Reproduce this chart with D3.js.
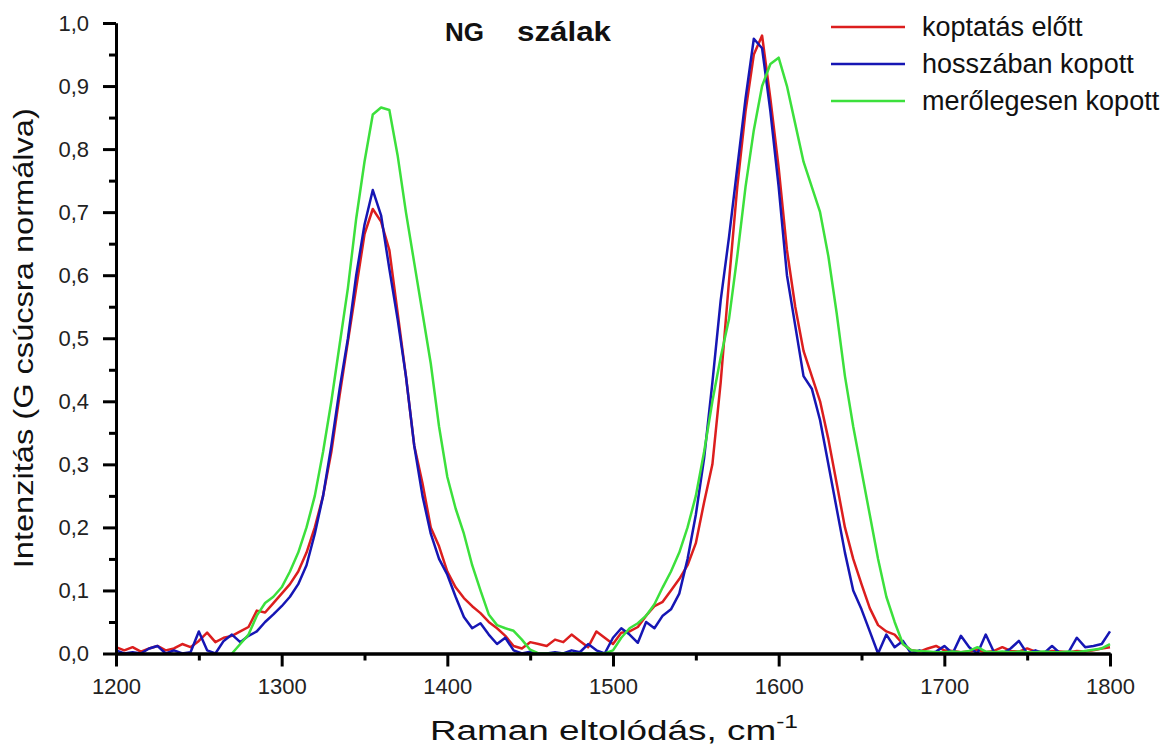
<!DOCTYPE html>
<html>
<head>
<meta charset="utf-8">
<script src="https://cdn.jsdelivr.net/npm/d3@7/dist/d3.min.js"></script>
<style>
  body { margin: 0; background: #fff; }
  svg { display: block; }
  text { font-family: "Liberation Sans", Arial, sans-serif; }
</style>
</head>
<body>
<svg id="chart" width="1167" height="747"></svg>
<script>
// Raman shift grid (cm-1), one point every 5 cm-1
const wavenumbers = [
  1200,1205,1210,1215,1220,1225,1230,1235,1240,1245,1250,1255,1260,1265,1270,1275,1280,1285,1290,1295,
  1300,1305,1310,1315,1320,1325,1330,1335,1340,1345,1350,1355,1360,1365,1370,1375,1380,1385,1390,1395,
  1400,1405,1410,1415,1420,1425,1430,1435,1440,1445,1450,1455,1460,1465,1470,1475,1480,1485,1490,1495,
  1500,1505,1510,1515,1520,1525,1530,1535,1540,1545,1550,1555,1560,1565,1570,1575,1580,1585,1590,1595,
  1600,1605,1610,1615,1620,1625,1630,1635,1640,1645,1650,1655,1660,1665,1670,1675,1680,1685,1690,1695,
  1700,1705,1710,1715,1720,1725,1730,1735,1740,1745,1750,1755,1760,1765,1770,1775,1780,1785,1790,1795,
  1800
];

// koptatás előtt
const beforeWear = [
  0.010,0.005,0.010,0.003,0.008,0.012,0.005,0.008,0.015,0.010,0.020,0.033,0.018,0.025,0.028,0.035,0.042,0.068,0.065,0.080,
  0.095,0.110,0.130,0.160,0.200,0.250,0.320,0.410,0.495,0.580,0.665,0.705,0.685,0.640,0.540,0.440,0.330,0.270,0.200,0.170,
  0.130,0.105,0.088,0.075,0.064,0.050,0.040,0.028,0.012,0.008,0.018,0.015,0.012,0.022,0.018,0.030,0.020,0.010,0.035,0.025,
  0.015,0.033,0.035,0.042,0.060,0.075,0.082,0.100,0.118,0.140,0.175,0.240,0.300,0.430,0.590,0.740,0.860,0.950,0.980,0.880,
  0.770,0.640,0.550,0.480,0.440,0.400,0.340,0.270,0.200,0.150,0.110,0.072,0.045,0.035,0.030,0.015,0.005,0.003,0.008,0.012,
  0.005,0.004,0.002,0.003,0.006,0.002,0.004,0.010,0.004,0.003,0.008,0.003,0.002,0.004,0.003,0.002,0.004,0.003,0.005,0.008,
  0.010
];

// hosszában kopott
const alongWear = [
  0.005,0.000,0.002,0.000,0.008,0.012,0.000,0.005,0.000,0.002,0.035,0.005,0.000,0.020,0.030,0.018,0.028,0.035,0.050,0.062,
  0.075,0.090,0.110,0.140,0.190,0.250,0.330,0.420,0.500,0.600,0.680,0.735,0.695,0.610,0.530,0.440,0.330,0.250,0.190,0.150,
  0.125,0.090,0.058,0.040,0.048,0.030,0.015,0.025,0.005,0.000,0.003,0.000,0.000,0.002,0.000,0.005,0.002,0.015,0.005,0.000,
  0.025,0.040,0.030,0.017,0.050,0.040,0.060,0.070,0.095,0.150,0.220,0.310,0.430,0.560,0.660,0.770,0.880,0.975,0.960,0.860,
  0.740,0.600,0.520,0.440,0.420,0.370,0.300,0.230,0.160,0.100,0.070,0.035,0.000,0.030,0.010,0.020,0.000,0.005,0.000,0.003,
  0.012,0.000,0.028,0.010,0.000,0.030,0.002,0.000,0.008,0.020,0.000,0.005,0.000,0.012,0.000,0.002,0.025,0.010,0.012,0.015,
  0.035
];

// merőlegesen kopott (the trace starts at about 1270 cm-1)
const acrossWear = [
  null,null,null,null,null,null,null,null,null,null,null,null,null,null,0.000,0.015,0.030,0.060,0.080,0.090,
  0.105,0.130,0.160,0.200,0.250,0.320,0.400,0.490,0.580,0.690,0.780,0.855,0.866,0.862,0.790,0.700,0.620,0.540,0.460,0.360,
  0.280,0.230,0.190,0.140,0.100,0.062,0.045,0.040,0.036,0.022,0.006,0.000,0.000,0.000,0.000,0.000,0.000,0.000,0.000,0.000,
  0.005,0.025,0.040,0.048,0.060,0.078,0.105,0.130,0.160,0.200,0.250,0.320,0.400,0.470,0.530,0.630,0.740,0.830,0.900,0.935,
  0.945,0.900,0.840,0.780,0.740,0.700,0.630,0.540,0.440,0.360,0.290,0.220,0.150,0.090,0.050,0.015,0.005,0.004,0.003,0.002,
  0.002,0.003,0.002,0.004,0.010,0.003,0.002,0.003,0.002,0.003,0.002,0.002,0.003,0.002,0.002,0.003,0.002,0.004,0.006,0.008,
  0.015
];

const seriesNames = ["koptatás előtt", "hosszában kopott", "merőlegesen kopott"];
const seriesColors = ["#dc1e1e", "#1616b4", "#3ce03c"];
const seriesValues = [beforeWear, alongWear, acrossWear];

const xTicks = [1200, 1300, 1400, 1500, 1600, 1700, 1800];
const xMinorTicks = [1250, 1350, 1450, 1550, 1650, 1750];
const yTicks = [0, 0.1, 0.2, 0.3, 0.4, 0.5, 0.6, 0.7, 0.8, 0.9, 1.0];
const yMinorTicks = [0.05, 0.15, 0.25, 0.35, 0.45, 0.55, 0.65, 0.75, 0.85, 0.95];

const margins = { top: 23, bottom: 93.5, left: 116, right: 57 };
const width = 1167;
const height = 747;
const graphWidth = width - margins.left - margins.right;
const graphHeight = height - margins.top - margins.bottom;

const svg = d3.select("#chart");

const scaleX = d3.scaleLinear().domain([1200, 1800]).range([0, graphWidth]);
const scaleY = d3.scaleLinear().domain([0, 1.0]).range([graphHeight, 0]);

const graph = svg.append("g")
  .attr("transform", `translate(${margins.left},${margins.top})`);

// curves
const line = d3.line()
  .defined((d) => d.y !== null)
  .x((d) => scaleX(d.x))
  .y((d) => scaleY(d.y));

seriesValues.forEach((vals, i) => {
  const pts = wavenumbers.map((x, j) => ({ x: x, y: vals[j] }));
  graph.append("path")
    .datum(pts)
    .attr("fill", "none")
    .attr("stroke", seriesColors[i])
    .attr("stroke-width", 2.5)
    .attr("stroke-linejoin", "round")
    .attr("d", line);
});

// axes
const fmt = (d) => d3.format(".1f")(d).replace(".", ",");

const xAxis = d3.axisBottom(scaleX).tickValues(xTicks).tickSize(13).tickSizeOuter(0).tickPadding(12).tickFormat(d3.format("d"));
const xMinor = d3.axisBottom(scaleX).tickValues(xMinorTicks).tickSize(7).tickSizeOuter(0).tickFormat("");
const yAxis = d3.axisLeft(scaleY).tickValues(yTicks).tickSize(13).tickSizeOuter(0).tickPadding(14).tickFormat(fmt);
const yMinor = d3.axisLeft(scaleY).tickValues(yMinorTicks).tickSize(7).tickSizeOuter(0).tickFormat("");

const styleAxis = (g) => {
  g.selectAll("path.domain").attr("stroke", "#000").attr("stroke-width", 3);
  g.selectAll("line").attr("stroke", "#000").attr("stroke-width", 3);
  g.selectAll("text").attr("font-size", 22).attr("fill", "#222")
    .attr("font-family", "'Liberation Sans', Arial, sans-serif");
};

graph.append("g").attr("transform", `translate(0,${graphHeight})`).call(xMinor).call(styleAxis);
graph.append("g").attr("transform", `translate(0,${graphHeight})`).call(xAxis).call(styleAxis);
graph.append("g").call(yMinor).call(styleAxis);
graph.append("g").call(yAxis).call(styleAxis);

// title
svg.append("text").attr("x", 445).attr("y", 41)
  .attr("font-size", 26).attr("font-weight", "bold").attr("fill", "#111").text("NG");
svg.append("text").attr("x", 517).attr("y", 41)
  .attr("font-size", 28).attr("font-weight", "bold").attr("fill", "#111")
  .attr("textLength", 94).attr("lengthAdjust", "spacingAndGlyphs").text("szálak");

// axis titles
const xLabel = svg.append("text")
  .attr("x", 430).attr("y", 740)
  .attr("font-size", 27).attr("fill", "#111")
  .attr("textLength", 368).attr("lengthAdjust", "spacingAndGlyphs");
xLabel.append("tspan").text("Raman eltolódás, cm");
xLabel.append("tspan").attr("font-size", 18).attr("dy", -12).text("-1");

svg.append("text")
  .attr("transform", `translate(33,${margins.top + graphHeight / 2}) rotate(-90)`)
  .attr("text-anchor", "middle").attr("font-size", 27).attr("fill", "#111")
  .attr("textLength", 460).attr("lengthAdjust", "spacingAndGlyphs")
  .text("Intenzitás (G csúcsra normálva)");

// legend
const legend = svg.append("g").attr("transform", "translate(831,27)");
seriesNames.forEach((name, i) => {
  const row = legend.append("g").attr("transform", `translate(0,${i * 37})`);
  row.append("line").attr("x1", 0).attr("x2", 74).attr("y1", 0).attr("y2", 0)
    .attr("stroke", seriesColors[i]).attr("stroke-width", 2.5);
  row.append("text").attr("x", 91).attr("y", 9)
    .attr("font-size", 27).attr("fill", "#111").text(name);
});
</script>
</body>
</html>
